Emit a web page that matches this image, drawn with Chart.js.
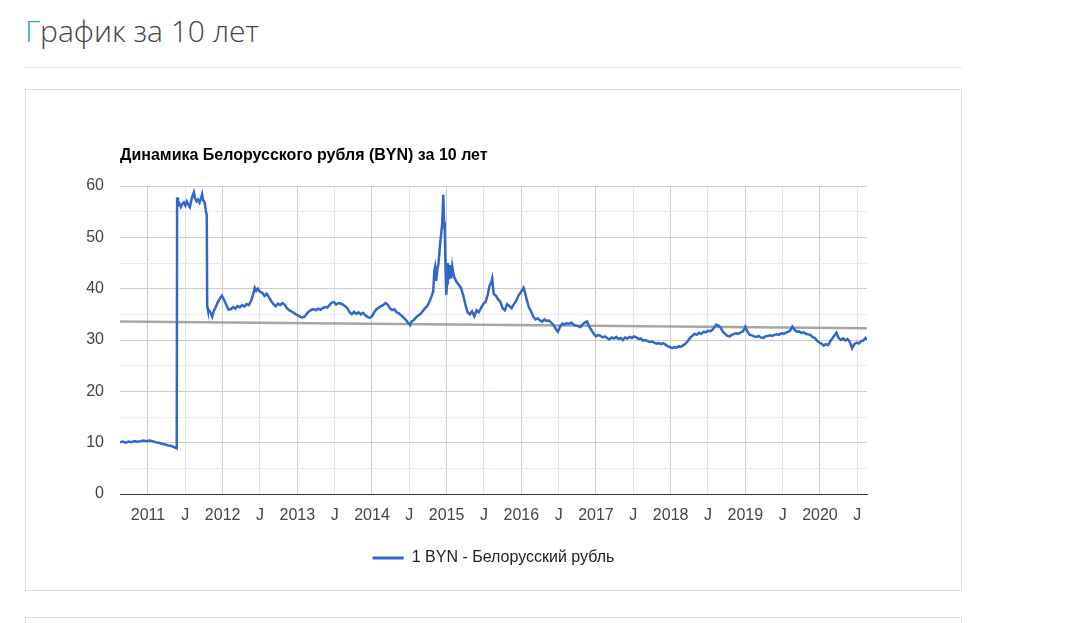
<!DOCTYPE html>
<html lang="ru">
<head>
  <meta charset="UTF-8" />
  <title>График за 10 лет</title>
  <script src="https://cdn.jsdelivr.net/npm/chart.js"></script>
  <style>
    body {
      margin: 0;
      background: #fff;
      font-family: "Open Sans", Arial, sans-serif;
    }
    .page-title {
      position: absolute;
      left: 25px;
      top: 11px;
      margin: 0;
      font-size: 30px;
      font-weight: 300;
      line-height: 40px;
      color: #444;
    }
    .page-title span { color: #2a9fe0; }
    .rule {
      position: absolute;
      left: 25px;
      top: 67px;
      width: 937px;
      height: 1px;
      background: #e6e6e6;
    }
    .card {
      position: absolute;
      left: 25px;
      width: 937px;
      box-sizing: border-box;
      border: 1px solid #ddd;
      background: #fff;
    }
    #chartBox { top: 89px; height: 502px; }
    #nextBox { top: 617px; height: 40px; }
    canvas { display: block; }
  </style>
</head>
<body>
  <h2 class="page-title"><span>Г</span>рафик за 10 лет</h2>
  <div class="rule"></div>
  <div class="card" id="chartBox">
    <canvas id="rateChart" width="935" height="500"></canvas>
  </div>
  <div class="card" id="nextBox"></div>

  <script>
    // Chart text
    const chartTitle = 'Динамика Белорусского рубля (BYN) за 10 лет';
    const seriesName = '1 BYN - Белорусский рубль';

    // Axis range (decimal years) and tick labels
    const xMin = 2010.625;
    const xMax = 2020.63;
    const halfYearLabel = 'J';
    const yTicks = [0, 10, 20, 30, 40, 50, 60];

    // Dates as decimal years
    const rateDates = [
      2010.625, 2010.66, 2010.70, 2010.74, 2010.78, 2010.82, 2010.86, 2010.90, 2010.94, 2010.98,
      2011.02, 2011.06, 2011.10, 2011.14, 2011.18, 2011.22, 2011.26, 2011.30, 2011.34, 2011.37, 2011.385,
      2011.39, 2011.40, 2011.42, 2011.44, 2011.46, 2011.48, 2011.50, 2011.52, 2011.54, 2011.56,
      2011.58, 2011.60, 2011.615, 2011.63, 2011.65, 2011.67, 2011.69, 2011.71, 2011.725, 2011.74,
      2011.76, 2011.775, 2011.787, 2011.793, 2011.80, 2011.82, 2011.84, 2011.86, 2011.88, 2011.90,
      2011.93, 2011.96, 2011.99, 2012.02, 2012.05, 2012.08, 2012.11, 2012.14, 2012.17, 2012.20,
      2012.23, 2012.26, 2012.29, 2012.32, 2012.35, 2012.38, 2012.41, 2012.43, 2012.45, 2012.47,
      2012.50, 2012.53, 2012.56, 2012.59, 2012.62, 2012.65, 2012.68, 2012.71, 2012.74, 2012.77,
      2012.80, 2012.83, 2012.86, 2012.89, 2012.92, 2012.95, 2012.98, 2013.01, 2013.04, 2013.07,
      2013.10, 2013.13, 2013.16, 2013.19, 2013.22, 2013.25, 2013.28, 2013.31, 2013.34, 2013.37,
      2013.40, 2013.43, 2013.46, 2013.49, 2013.52, 2013.55, 2013.58, 2013.61, 2013.64, 2013.67,
      2013.70, 2013.73, 2013.76, 2013.79, 2013.82, 2013.85, 2013.88, 2013.91, 2013.94, 2013.97,
      2014.00, 2014.03, 2014.06, 2014.09, 2014.12, 2014.15, 2014.18, 2014.21, 2014.24, 2014.27,
      2014.30, 2014.33, 2014.36, 2014.39, 2014.42, 2014.45, 2014.48, 2014.51, 2014.53, 2014.56,
      2014.59, 2014.62, 2014.65, 2014.68, 2014.71, 2014.74, 2014.77, 2014.80, 2014.82, 2014.835,
      2014.845, 2014.86, 2014.875, 2014.89, 2014.905, 2014.92, 2014.94, 2014.955, 2014.965, 2014.975,
      2014.985, 2014.995, 2015.005, 2015.015, 2015.03, 2015.045, 2015.06, 2015.075, 2015.09, 2015.11,
      2015.13, 2015.16, 2015.19, 2015.22, 2015.25, 2015.28, 2015.31, 2015.34, 2015.37, 2015.40,
      2015.43, 2015.46, 2015.49, 2015.52, 2015.55, 2015.575, 2015.595, 2015.61, 2015.63, 2015.66,
      2015.69, 2015.72, 2015.75, 2015.78, 2015.81, 2015.84, 2015.87, 2015.90, 2015.93, 2015.96,
      2015.99, 2016.03, 2016.05, 2016.07, 2016.10, 2016.13, 2016.16, 2016.19, 2016.22, 2016.25,
      2016.28, 2016.31, 2016.34, 2016.37, 2016.40, 2016.43, 2016.46, 2016.49, 2016.52, 2016.55,
      2016.58, 2016.61, 2016.64, 2016.67, 2016.70, 2016.73, 2016.76, 2016.79, 2016.82, 2016.85,
      2016.88, 2016.91, 2016.94, 2016.97, 2017.00, 2017.03, 2017.06, 2017.09, 2017.12, 2017.15,
      2017.18, 2017.21, 2017.24, 2017.27, 2017.30, 2017.33, 2017.36, 2017.39, 2017.42, 2017.45,
      2017.48, 2017.51, 2017.54, 2017.57, 2017.60, 2017.63, 2017.66, 2017.69, 2017.72, 2017.75,
      2017.78, 2017.81, 2017.84, 2017.87, 2017.90, 2017.93, 2017.96, 2017.99, 2018.02, 2018.05,
      2018.08, 2018.11, 2018.14, 2018.17, 2018.20, 2018.23, 2018.26, 2018.29, 2018.32, 2018.35,
      2018.38, 2018.41, 2018.44, 2018.47, 2018.50, 2018.53, 2018.56, 2018.59, 2018.61, 2018.64,
      2018.67, 2018.70, 2018.73, 2018.76, 2018.79, 2018.82, 2018.85, 2018.88, 2018.91, 2018.94,
      2018.97, 2019.00, 2019.03, 2019.06, 2019.09, 2019.12, 2019.15, 2019.18, 2019.21, 2019.24,
      2019.27, 2019.30, 2019.33, 2019.36, 2019.39, 2019.42, 2019.45, 2019.48, 2019.51, 2019.54,
      2019.57, 2019.60, 2019.63, 2019.66, 2019.69, 2019.72, 2019.75, 2019.78, 2019.81, 2019.84,
      2019.87, 2019.90, 2019.93, 2019.96, 2019.99, 2020.02, 2020.05, 2020.08, 2020.11, 2020.14,
      2020.17, 2020.20, 2020.22, 2020.25, 2020.28, 2020.31, 2020.34, 2020.37, 2020.40, 2020.43,
      2020.46, 2020.49, 2020.52, 2020.55, 2020.58, 2020.61, 2020.63
    ];

    // Value of 1 BYN, same order as rateDates
    const rateValues = [
      10.1, 10.2, 10.0, 10.2, 10.1, 10.3, 10.2, 10.3, 10.4, 10.3,
      10.4, 10.3, 10.1, 10.0, 9.8, 9.7, 9.5, 9.4, 9.2, 9.0, 8.9,
      57.8, 56.2, 56.6, 55.9, 56.5, 56.8, 56.2, 57.0, 56.4, 55.9,
      57.2, 58.2, 58.8, 57.6, 57.0, 57.4, 56.8, 57.6, 58.4, 57.2,
      56.8, 55.0, 54.4, 36.5, 36.0, 35.8, 35.2, 34.5, 35.6, 36.2,
      37.2, 38.0, 38.6, 37.8, 36.8, 35.9, 36.0, 36.4, 36.1, 36.6,
      36.4, 36.8, 36.5, 37.0, 36.8, 37.6, 39.0, 40.2, 39.6, 40.0,
      39.4, 39.2, 38.6, 39.0, 38.3, 37.6, 37.0, 36.6, 37.1, 36.8,
      37.2, 36.9, 36.2, 35.8, 35.6, 35.3, 35.0, 34.8, 34.5, 34.4,
      34.6, 35.2, 35.6, 35.9, 36.0, 35.8, 36.1, 35.9, 36.2, 36.4,
      36.3, 36.8, 37.3, 37.4, 36.9, 37.2, 37.1, 36.9, 36.6, 36.2,
      35.4, 35.0, 35.5, 35.1, 35.4, 35.0, 35.3, 34.8, 34.5, 34.3,
      34.6, 35.4, 36.0, 36.3, 36.6, 36.8, 37.2, 36.9, 36.2, 35.8,
      36.0, 35.4, 35.2, 34.8, 34.4, 34.0, 33.4, 32.9, 33.6, 33.9,
      34.4, 34.8, 35.1, 35.6, 36.2, 36.6, 37.5, 38.6, 39.5, 43.5,
      44.2, 41.5, 43.8, 44.8, 47.5, 49.8, 52.5, 58.3, 53.0, 51.2,
      44.0, 38.8, 41.0, 45.0, 41.8, 44.6, 42.0, 44.3, 42.8, 42.0,
      41.4, 40.8, 40.2, 38.8, 37.0, 35.4, 35.0, 35.6, 34.6, 35.8,
      35.4, 36.2, 37.0, 37.4, 38.8, 40.6, 41.2, 42.0, 39.0, 38.6,
      37.9, 37.4, 36.2, 35.8, 37.0, 36.6, 36.2, 37.0, 37.6, 38.6,
      39.2, 40.2, 39.2, 38.0, 36.4, 35.6, 34.6, 34.0, 34.2, 33.8,
      33.6, 34.0, 33.7, 33.8, 33.4, 32.9, 32.2, 31.6, 32.6, 33.2,
      33.0, 33.3, 33.1, 33.4, 33.0, 32.8, 32.7, 32.5, 33.0, 33.4,
      33.6, 32.6, 31.9, 31.2, 30.7, 31.0, 30.8, 30.5, 30.7, 30.4,
      30.1, 30.5, 30.3, 30.6, 30.2, 30.4, 30.0, 30.5, 30.3, 30.6,
      30.4, 30.7, 30.5, 30.2, 30.3, 29.9, 30.0, 29.8, 29.6, 29.7,
      29.5, 29.3, 29.4, 29.2, 29.4, 29.1, 28.8, 28.6, 28.4, 28.6,
      28.5, 28.8, 28.7, 29.0, 29.3, 29.8, 30.4, 30.8, 31.2, 31.0,
      31.4, 31.2, 31.6, 31.5, 31.8, 31.7, 32.0, 32.6, 33.0, 32.8,
      32.4, 31.6, 31.2, 30.8, 30.7, 31.0, 31.2, 31.3, 31.2, 31.5,
      31.7, 32.6, 31.6, 31.0, 30.9, 30.7, 30.6, 30.8, 30.5, 30.4,
      30.7, 30.8, 30.9, 30.8, 31.0, 31.1, 31.0, 31.3, 31.2, 31.4,
      31.6, 31.8, 32.6, 32.0, 31.6, 31.7, 31.4, 31.5, 31.2, 31.1,
      31.0, 30.6, 30.4, 29.9, 29.5, 29.3, 28.9, 29.2, 29.0, 29.8,
      30.4, 31.0, 31.4, 30.4, 30.0, 30.3, 29.9, 30.2, 29.6, 28.4,
      29.2, 29.5, 29.3, 29.8, 29.9, 30.4, 30.1
    ];

    // Linear trend line end points
    const trendDates = [2010.625, 2020.63];
    const trendValues = [33.6, 32.3];

    const rateColor = '#3366cc';
    const trendColor = 'rgba(150,150,150,0.85)';

    const ratePoints = rateDates.map((d, i) => ({ x: d, y: rateValues[i] }));
    const trendPoints = trendDates.map((d, i) => ({ x: d, y: trendValues[i] }));

    const fontFamily = 'Arial, "Liberation Sans", sans-serif';

    // Title left-aligned with the plot area, like Google Charts does
    const leftTitle = {
      id: 'leftTitle',
      afterDraw(chart) {
        const c = chart.ctx;
        c.save();
        c.font = 'bold 16px ' + fontFamily;
        c.fillStyle = '#000';
        c.textBaseline = 'alphabetic';
        c.textAlign = 'left';
        c.fillText(chartTitle, chart.chartArea.left, 70);
        c.restore();
      }
    };

    const tickFont = { family: fontFamily, size: 16 };

    new Chart(document.getElementById('rateChart'), {
      type: 'line',
      data: {
        datasets: [
          {
            label: seriesName,
            data: ratePoints,
            borderColor: rateColor,
            backgroundColor: rateColor,
            borderWidth: 2.5,
            pointRadius: 0,
            tension: 0,
            order: 1
          },
          {
            label: 'trend',
            data: trendPoints,
            borderColor: trendColor,
            borderWidth: 2.5,
            pointRadius: 0,
            order: 2
          }
        ]
      },
      options: {
        responsive: false,
        animation: false,
        layout: { padding: { top: 96, right: 0, left: 0, bottom: 14 } },
        plugins: {
          title: { display: false },
          tooltip: { enabled: false },
          legend: {
            position: 'bottom',
            labels: {
              boxWidth: 31,
              boxHeight: 3,
              color: '#222',
              font: tickFont,
              padding: 10,
              filter: item => item.text === seriesName,
              generateLabels(chart) {
                const items = Chart.defaults.plugins.legend.labels.generateLabels(chart);
                items.forEach(it => { it.lineWidth = 0; });
                return items;
              }
            }
          }
        },
        scales: {
          x: {
            type: 'linear',
            min: xMin,
            max: xMax,
            afterFit(scale) { scale.height = 46; },
            border: { display: true, color: '#333', width: 1 },
            grid: {
              drawTicks: false,
              color: ctx => (ctx.tick && ctx.tick.value % 1 === 0) ? '#cccccc' : '#e4e4e4'
            },
            ticks: {
              stepSize: 0.5,
              includeBounds: false,
              autoSkip: false,
              maxRotation: 0,
              padding: 12,
              color: '#444',
              font: tickFont,
              callback: v => (v % 1 === 0 ? String(v) : halfYearLabel)
            }
          },
          y: {
            min: 0,
            max: 60,
            afterFit(scale) { scale.width = 94; },
            border: { display: false },
            grid: {
              drawTicks: false,
              color: ctx => {
                const v = ctx.tick ? ctx.tick.value : 0;
                if (v === 0) return '#333';
                return yTicks.includes(v) ? '#cccccc' : '#ebebeb';
              }
            },
            ticks: {
              stepSize: 5,
              padding: 16,
              color: '#444',
              font: tickFont,
              callback: v => (yTicks.includes(v) ? String(v) : '')
            }
          },
          // empty right-hand margin so the plot is centred in the card
          yRight: {
            position: 'right',
            min: 0,
            max: 60,
            afterFit(scale) { scale.width = 94; },
            border: { display: false },
            grid: { display: false, drawTicks: false },
            ticks: { display: false }
          }
        }
      },
      plugins: [leftTitle]
    });
  </script>
</body>
</html>
